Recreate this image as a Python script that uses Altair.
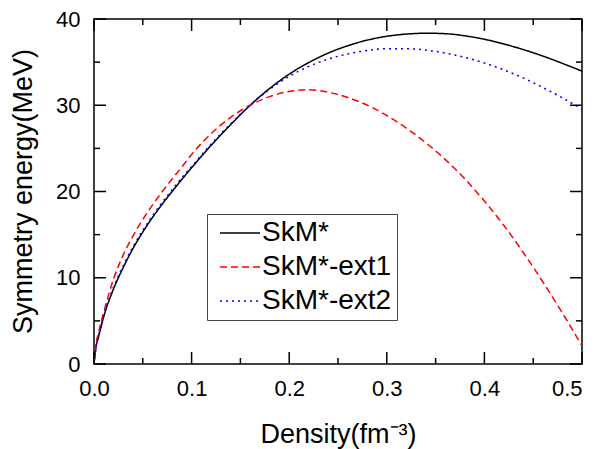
import altair as alt
import pandas as pd

# ---- data ----
DENSITY = [0.0, 0.002, 0.005, 0.01, 0.02, 0.03, 0.04, 0.05, 0.06, 0.07, 0.08, 0.09,
           0.10, 0.12, 0.14, 0.16, 0.18, 0.20, 0.22, 0.24, 0.26, 0.28, 0.30, 0.32,
           0.34, 0.36, 0.38, 0.40, 0.42, 0.44, 0.46, 0.48, 0.50]
SKM = [0.0, 1.9, 3.3, 5.5, 8.7, 11.2, 13.4, 15.3, 17.0, 18.55, 20.0, 21.4,
       22.75, 25.35, 27.75, 30.0, 31.95, 33.6, 34.95, 36.05, 36.9, 37.55, 38.0, 38.25,
       38.35, 38.3, 38.05, 37.65, 37.1, 36.45, 35.7, 34.85, 33.95]
EXT1 = [0.0, 2.2, 3.8, 6.0, 9.85, 12.65, 14.85, 16.75, 18.45, 20.0, 21.45, 22.85,
        24.3, 26.7, 28.6, 30.0, 31.0, 31.6, 31.8, 31.5, 30.9, 30.0, 28.8, 27.35,
        25.65, 23.7, 21.45, 18.9, 16.05, 12.9, 9.5, 5.9, 2.1]
EXT2 = [0.0, 2.0, 3.45, 5.65, 8.9, 11.4, 13.6, 15.5, 17.2, 18.75, 20.2, 21.6,
        22.9, 25.5, 27.85, 30.0, 31.85, 33.35, 34.5, 35.35, 35.95, 36.35, 36.55, 36.55,
        36.4, 36.05, 35.55, 34.9, 34.1, 33.15, 32.05, 30.85, 29.55]

MODELS = ["SkM*", "SkM*-ext1", "SkM*-ext2"]
COLORS = ["#000000", "#ff0000", "#0000ff"]
DASHES = [[1, 0], [7, 4], [2, 4]]

X_MAJOR = [0.0, 0.1, 0.2, 0.3, 0.4, 0.5]
X_MINOR = [0.05, 0.15, 0.25, 0.35, 0.45]
Y_MAJOR = [0, 10, 20, 30, 40]
Y_MINOR = [5, 15, 25, 35]

rows = []
for m, vals in zip(MODELS, [SKM, EXT1, EXT2]):
    for d, v in zip(DENSITY, vals):
        rows.append({"model": m, "density": d, "esym": v})
df = pd.DataFrame(rows)

W, H = 488, 345
MAJ, MIN = 12, 6
FONT = "Liberation Sans"
xs = alt.Scale(domain=[0, 0.5], nice=False)
ys = alt.Scale(domain=[0, 40], nice=False)

LEG = alt.Legend(
    title=None, orient="none", legendX=113, legendY=195, direction="vertical",
    labelFont=FONT, labelFontSize=28, labelColor="black",
    symbolType="M-1,0H3", symbolSize=400, symbolStrokeWidth=1.5,
    strokeColor="#444444", fillColor="white", padding=5, symbolOffset=4,
    labelOffset=18, rowPadding=6,
)

lines = alt.Chart(df).mark_line(strokeWidth=1.5, interpolate="monotone", clip=True).encode(
    x=alt.X("density:Q", scale=xs, axis=alt.Axis(
        orient="bottom", values=X_MAJOR, format=".1f", ticks=False, domain=False,
        grid=False, labelFont=FONT, labelFontSize=22, labelColor="black",
        labelPadding=14, labelFlush=False,
        labelAlign={"condition": {"test": "datum.value >= 0.5", "value": "right"},
                    "value": "center"},
        title="Density(fm⁻³)", titleFont=FONT,
        titleFontSize=27, titleFontWeight="normal", titleColor="black",
        titleX=W / 2, titleY=78, titleAlign="center", titleBaseline="alphabetic")),
    y=alt.Y("esym:Q", scale=ys, axis=alt.Axis(
        orient="left", values=Y_MAJOR, format="d", ticks=False, domain=False,
        grid=False, labelFont=FONT, labelFontSize=22, labelColor="black",
        labelPadding=14, labelFlush=False, title="Symmetry energy(MeV)",
        titleFont=FONT, titleFontSize=27, titleFontWeight="normal",
        titleColor="black", titleAngle=270, titleX=-63, titleY=172,
        titleAlign="center", titleBaseline="alphabetic")),
    color=alt.Color("model:N", scale=alt.Scale(domain=MODELS, range=COLORS), legend=LEG),
    strokeDash=alt.StrokeDash("model:N", scale=alt.Scale(domain=MODELS, range=DASHES), legend=LEG),
)


def xticks(vals, y0, y1):
    return alt.Chart(pd.DataFrame({"t": vals})).mark_rule(
        color="black", strokeWidth=1.5).encode(
        x=alt.X("t:Q", scale=xs), y=alt.value(y0), y2=alt.value(y1))


def yticks(vals, x0, x1):
    return alt.Chart(pd.DataFrame({"t": vals})).mark_rule(
        color="black", strokeWidth=1.5).encode(
        y=alt.Y("t:Q", scale=ys), x=alt.value(x0), x2=alt.value(x1))


chart = alt.layer(
    lines,
    xticks(X_MAJOR, H, H - MAJ), xticks(X_MINOR, H, H - MIN),
    xticks(X_MAJOR, 0, MAJ), xticks(X_MINOR, 0, MIN),
    yticks(Y_MAJOR, 0, MAJ), yticks(Y_MINOR, 0, MIN),
    yticks(Y_MAJOR, W, W - MAJ), yticks(Y_MINOR, W, W - MIN),
).properties(
    width=W, height=H,
    autosize=alt.AutoSizeParams(type="none"),
    padding={"left": 86, "top": 11, "right": 8, "bottom": 85},
).configure_view(stroke="black", strokeWidth=1.5)

chart.save("out.html", embed_options={"renderer": "svg", "actions": False})
